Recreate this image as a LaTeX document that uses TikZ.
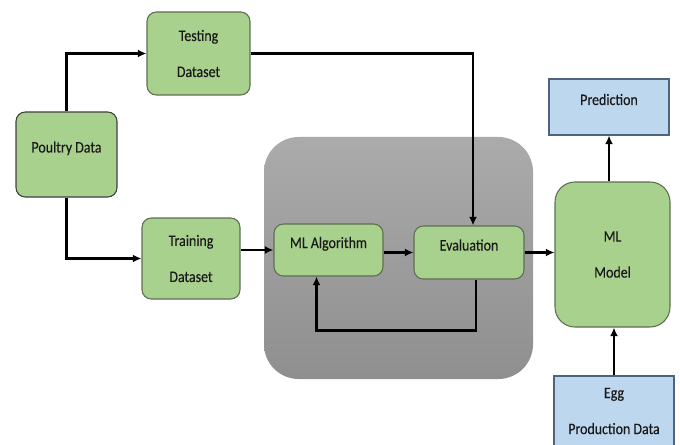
\documentclass[tikz,border=0pt]{standalone}
\usepackage{fontspec}
\setmainfont{Carlito}[FakeStretch=0.87, FakeBold=0.3]
\usetikzlibrary{arrows.meta, calc}

\definecolor{boxgreen}{HTML}{A9D18E}
\definecolor{greenline}{HTML}{5E6E52}
\definecolor{boxblue}{HTML}{BDD7EE}
\definecolor{blueline}{HTML}{4F6280}

\tikzset{
  green box/.style = {draw=greenline, fill=boxgreen, line width=0.8pt, rounded corners=7pt,
                      align=center, text=black!90, font=\fontsize{12}{27}\selectfont},
  blue box/.style = {draw=blueline, fill=boxblue, line width=0.8pt,
                     align=center, text=black!90, font=\fontsize{12}{27}\selectfont},
  one line/.style = {text height=9pt, text depth=12pt},
  arr/.style = {line width=1.7pt, -{Latex[length=6.5pt, width=6pt]}}
}

\begin{document}
\begin{tikzpicture}[x=0.75pt, y=-0.75pt]
\useasboundingbox (0, 0) rectangle (680, 445);

% grey panel
\shade[top color=black!33, bottom color=black!44, rounded corners=26pt]
  (264, 137) rectangle (533, 379);

\node[green box, minimum width=103*0.75pt, minimum height=83*0.75pt] (testing) at (198.5, 53.5) {Testing\\Dataset};
\node[green box, one line, draw=black!75, minimum width=101*0.75pt, minimum height=85*0.75pt] (poultry) at (66.5, 154.5) {Poultry Data};
\node[green box, minimum width=98*0.75pt, minimum height=81*0.75pt] (training) at (191, 258.5) {Training\\Dataset};
\node[green box, one line, minimum width=109*0.75pt, minimum height=52*0.75pt] (mlalg) at (328.5, 250) {ML Algorithm};
\node[green box, one line, minimum width=110*0.75pt, minimum height=53*0.75pt] (eval) at (469, 252.5) {Evaluation};
\node[green box, rounded corners=15pt, minimum width=115*0.75pt, minimum height=145*0.75pt] (model) at (612.5, 254.5) {ML\\Model};
\node[blue box, one line, minimum width=120*0.75pt, minimum height=56*0.75pt] (pred) at (609, 107) {Prediction};
\node[blue box, minimum width=120*0.75pt, minimum height=70*0.75pt] (egg) at (614, 411) {Egg\\Production Data};

% connectors
\draw[arr] (poultry.north) |- (testing.west);
\draw[arr] (poultry.south) |- (training.west);
\draw[arr] (training.east |- mlalg.west) -- (mlalg.west);
\draw[arr] (mlalg.east |- eval.west) -- (eval.west);
\draw[arr] (eval.east) -- (eval.east -| model.west);
\draw[arr] (testing.east) -| ([xshift=3pt]eval.north);
\draw[arr] ([xshift=5pt]eval.south) -- ++(0, 51) -| ([xshift=-9pt]mlalg.south);
\draw[arr] (pred.south |- model.north) -- (pred.south);
\draw[arr] (egg.north) -- (egg.north |- model.south);
\end{tikzpicture}
\end{document}
